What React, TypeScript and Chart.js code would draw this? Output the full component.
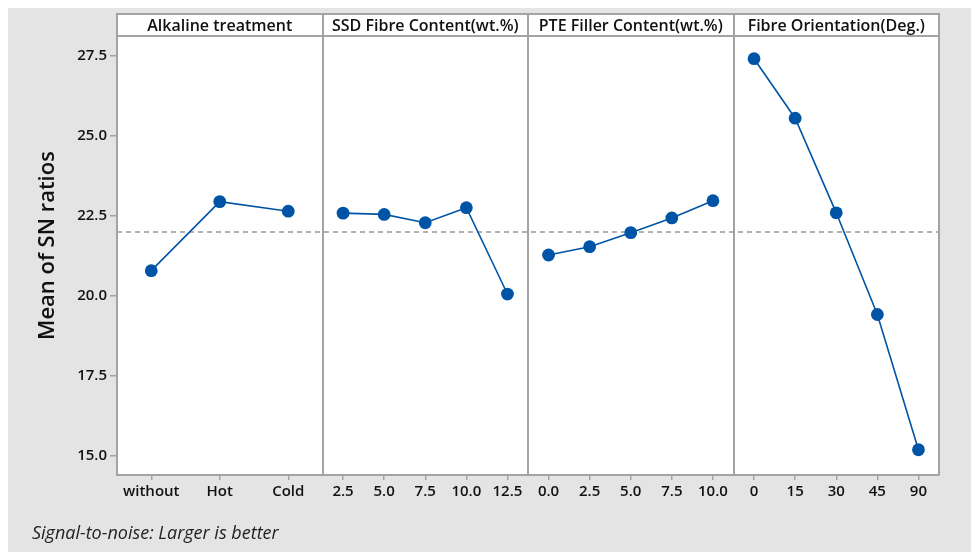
import React, { useEffect, useRef } from "react";
import { Chart, registerables } from "chart.js";

Chart.register(...registerables);

// ---- data ----
const PANEL_TITLES = [
  "Alkaline treatment",
  "SSD Fibre Content(wt.%)",
  "PTE Filler Content(wt.%)",
  "Fibre Orientation(Deg.)",
];
const ALKALINE_LEVELS = ["without", "Hot", "Cold"];
const ALKALINE_SN = [20.79, 22.95, 22.65];
const SSD_LEVELS = ["2.5", "5.0", "7.5", "10.0", "12.5"];
const SSD_SN = [22.59, 22.55, 22.29, 22.76, 20.06];
const PTE_LEVELS = ["0.0", "2.5", "5.0", "7.5", "10.0"];
const PTE_SN = [21.28, 21.54, 21.98, 22.44, 22.98];
const ORIENT_LEVELS = ["0", "15", "30", "45", "90"];
const ORIENT_SN = [27.42, 25.56, 22.6, 19.42, 15.19];
const GRAND_MEAN = 22.0;
const Y_TICKS = [15, 17.5, 20, 22.5, 25, 27.5];
const Y_MIN = 14.4;
const Y_MAX = 28.13;
const Y_TITLE = "Mean of SN ratios";
const FOOTNOTE = "Signal-to-noise: Larger is better";

const PANEL_LEVELS = [ALKALINE_LEVELS, SSD_LEVELS, PTE_LEVELS, ORIENT_LEVELS];
const PANEL_VALUES = [ALKALINE_SN, SSD_SN, PTE_SN, ORIENT_SN];

// position of level i (of n) in panel k on a 0..4 linear axis
const posOf = (k: number, i: number, n: number) => k + (i + 0.5) / n;

const X_TICK_POS: number[] = [];
const X_TICK_LABELS: string[] = [];
PANEL_LEVELS.forEach((levels, k) =>
  levels.forEach((lab, i) => {
    X_TICK_POS.push(posOf(k, i, levels.length));
    X_TICK_LABELS.push(lab);
  })
);

const FONT = "'Open Sans', 'Noto Sans', 'DejaVu Sans', sans-serif";
const BLUE = "#0054a6";
const FRAME = "#a3a3a3";
const BG = "#e4e4e4";
const TEXT = "#111111";

const panelPlugin = {
  id: "panelPlugin",
  beforeDraw(chart: any) {
    const { ctx, chartArea } = chart;
    ctx.save();
    ctx.fillStyle = BG;
    ctx.fillRect(0, 0, chart.width, chart.height);
    ctx.fillStyle = "#ffffff";
    ctx.fillRect(chartArea.left, chartArea.top, chartArea.right - chartArea.left, chartArea.bottom - chartArea.top);
    ctx.restore();
  },
  beforeDatasetsDraw(chart: any) {
    const { ctx, chartArea } = chart;
    const xs = chart.scales.x;
    const headerTop = chartArea.top - 22;
    ctx.save();
    ctx.fillStyle = "#ffffff";
    ctx.fillRect(chartArea.left, headerTop, chartArea.right - chartArea.left, chartArea.top - headerTop);
    ctx.strokeStyle = FRAME;
    ctx.lineWidth = 2;
    ctx.strokeRect(chartArea.left, headerTop, chartArea.right - chartArea.left, chartArea.top - headerTop);
    ctx.beginPath();
    ctx.moveTo(chartArea.right, headerTop);
    ctx.lineTo(chartArea.right, chartArea.bottom);
    ctx.stroke();
    for (let k = 1; k < PANEL_TITLES.length; k++) {
      const x = Math.round(xs.getPixelForValue(k));
      ctx.beginPath();
      ctx.moveTo(x, headerTop);
      ctx.lineTo(x, chartArea.bottom);
      ctx.stroke();
    }
    ctx.fillStyle = TEXT;
    ctx.font = `600 16px ${FONT}`;
    ctx.textAlign = "center";
    ctx.textBaseline = "middle";
    PANEL_TITLES.forEach((t, k) => {
      const cx = (xs.getPixelForValue(k) + xs.getPixelForValue(k + 1)) / 2;
      ctx.fillText(t, cx, (headerTop + chartArea.top) / 2 + 1);
    });
    ctx.restore();
  },
  afterDraw(chart: any) {
    const { ctx, chartArea } = chart;
    ctx.save();
    ctx.fillStyle = TEXT;
    ctx.font = `600 22px ${FONT}`;
    ctx.textAlign = "center";
    ctx.textBaseline = "middle";
    ctx.translate(40, (chartArea.top + chartArea.bottom) / 2 - 10);
    ctx.rotate(-Math.PI / 2);
    ctx.fillText(Y_TITLE, 0, 0);
    ctx.restore();
    ctx.save();
    ctx.fillStyle = "#222";
    ctx.font = `italic 18px ${FONT}`;
    ctx.textAlign = "left";
    ctx.textBaseline = "middle";
    ctx.fillText(FOOTNOTE, 24, 526);
    ctx.restore();
  },
};

export default function App() {
  const ref = useRef<HTMLCanvasElement | null>(null);
  useEffect(() => {
    if (!ref.current) return;
    const datasets: any[] = PANEL_VALUES.map((vals, k) => ({
      label: PANEL_TITLES[k],
      data: vals.map((v, i) => ({ x: posOf(k, i, vals.length), y: v })),
      borderColor: BLUE,
      backgroundColor: BLUE,
      borderWidth: 1.6,
      pointRadius: 6.4,
      pointBorderWidth: 0,
      pointHoverRadius: 6.4,
      order: 0,
    }));
    datasets.push({
      label: "mean",
      data: [
        { x: 0, y: GRAND_MEAN },
        { x: PANEL_TITLES.length, y: GRAND_MEAN },
      ],
      borderColor: "#9a9a9a",
      borderDash: [5, 4],
      borderWidth: 1.5,
      pointRadius: 0,
      order: 10,
    });
    const chart = new Chart(ref.current, {
      type: "line",
      data: { datasets },
      plugins: [panelPlugin],
      options: {
        animation: false,
        responsive: false,
        maintainAspectRatio: false,
        layout: { padding: { top: 28, right: 32, left: 0, bottom: 0 } },
        plugins: { legend: { display: false }, tooltip: { enabled: false } },
        scales: {
          x: {
            type: "linear",
            min: 0,
            max: PANEL_TITLES.length,
            afterBuildTicks: (s: any) => {
              s.ticks = X_TICK_POS.map((v) => ({ value: v }));
            },
            afterFit: (s: any) => {
              s.height = 77;
            },
            ticks: {
              autoSkip: false,
              maxRotation: 0,
              minRotation: 0,
              padding: 3,
              color: TEXT,
              font: { family: FONT, size: 15, weight: "600" },
              callback: (_v: any, i: number) => X_TICK_LABELS[i],
            },
            grid: { drawOnChartArea: false, drawTicks: true, tickLength: 5, color: FRAME, lineWidth: 1.5 },
            border: { display: true, color: FRAME, width: 2 },
          },
          y: {
            type: "linear",
            min: Y_MIN,
            max: Y_MAX,
            afterBuildTicks: (s: any) => {
              s.ticks = Y_TICKS.map((v) => ({ value: v }));
            },
            afterFit: (s: any) => {
              s.width = 109;
            },
            ticks: {
              padding: 3,
              color: TEXT,
              font: { family: FONT, size: 15, weight: "600" },
              callback: (v: any) => Number(v).toFixed(1),
            },
            grid: { drawOnChartArea: false, drawTicks: true, tickLength: 7, color: FRAME, lineWidth: 1.5 },
            border: { display: true, color: FRAME, width: 2 },
          },
        },
      } as any,
    });
    return () => chart.destroy();
  }, []);
  return (
    <div style={{ position: "absolute", left: 8, top: 8, width: 963, height: 544 }}>
      <canvas ref={ref} width={963} height={544} style={{ display: "block" }} />
    </div>
  );
}
